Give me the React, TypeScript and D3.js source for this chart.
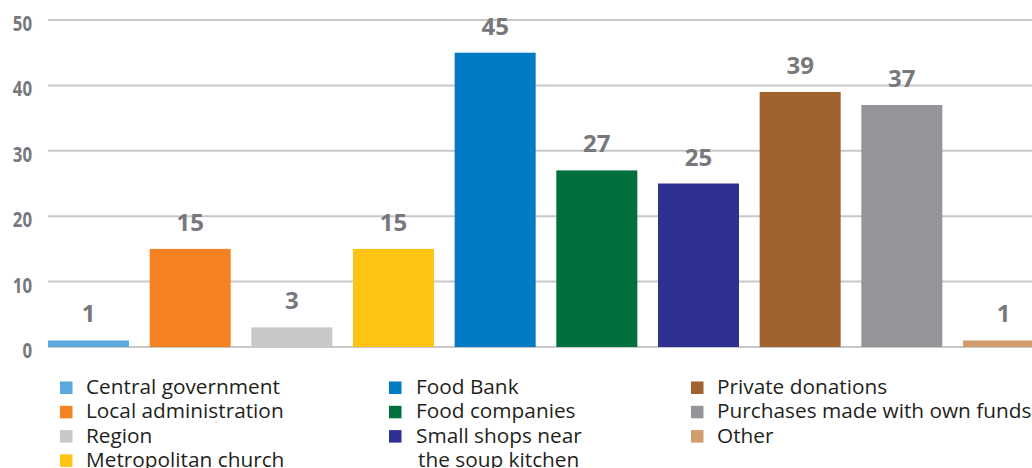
import React from "react";
import * as d3 from "d3";

const categories = [
  "Central government",
  "Local administration",
  "Region",
  "Metropolitan church",
  "Food Bank",
  "Food companies",
  "Small shops near the soup kitchen",
  "Private donations",
  "Purchases made with own funds",
  "Other",
];
const values = [1, 15, 3, 15, 45, 27, 25, 39, 37, 1];
const colors = [
  "#5ba8dd",
  "#f48223",
  "#c7c8ca",
  "#fdc413",
  "#007bc4",
  "#00703c",
  "#2e3192",
  "#a0622f",
  "#939598",
  "#d29c6f",
];
const yTicks = [0, 10, 20, 30, 40, 50];
const legendColumns = [
  [0, 1, 2, 3],
  [4, 5, 6],
  [7, 8, 9],
];
const legendLines: Record<number, string[]> = {
  6: ["Small shops near", "the soup kitchen"],
};

const W = 1032;
const H = 468;

export default function App() {
  const x = d3
    .scaleBand<string>()
    .domain(categories)
    .range([48, 1044])
    .paddingInner(0.2033)
    .paddingOuter(0);
  const y = d3.scaleLinear().domain([0, 50]).range([347, 20]);

  const legendX = [60, 389, 691];
  const legendTextX = [86, 416, 717];
  const rowBase = 394;
  const rowGap = 24.3;

  return (
    <svg
      width={W}
      height={H}
      style={{ position: "absolute", left: 0, top: 0, background: "#fff" }}
      fontFamily="'Open Sans', sans-serif"
    >
      {yTicks.map((t) => (
        <g key={t}>
          <line x1={48} x2={W} y1={y(t)} y2={y(t)} stroke="#c8c8c8" strokeWidth={2} />
          <text
            transform={`translate(32, ${y(t) + 11}) scale(0.8, 1)`}
            textAnchor="end"
            fontSize={21}
            fontWeight={700}
            fill="#77787b"
          >
            {t}
          </text>
        </g>
      ))}
      {categories.map((c, i) => (
        <g key={c}>
          <rect
            x={x(c)}
            y={y(values[i])}
            width={x.bandwidth()}
            height={y(0) - y(values[i])}
            fill={colors[i]}
          />
          <text
            x={(x(c) as number) + x.bandwidth() / 2}
            y={y(values[i]) - 18}
            textAnchor="middle"
            fontSize={24}
            fontWeight={700}
            fill="#77787b"
          >
            {values[i]}
          </text>
        </g>
      ))}
      {legendColumns.map((col, ci) =>
        col.map((idx, ri) => {
          const base = rowBase + ri * rowGap;
          const lines = legendLines[idx] || [categories[idx]];
          return (
            <g key={idx}>
              <rect x={legendX[ci]} y={base - 12.5} width={12.5} height={12.5} fill={colors[idx]} />
              {lines.map((l, li) => (
                <text
                  key={li}
                  x={legendTextX[ci] + (li > 0 ? 2 : 0)}
                  y={base + li * rowGap}
                  fontSize={20.8}
                  fill="#231f20"
                >
                  {l}
                </text>
              ))}
            </g>
          );
        })
      )}
    </svg>
  );
}
